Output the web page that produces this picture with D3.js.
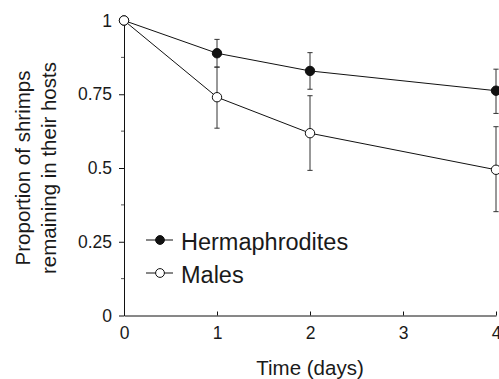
<!DOCTYPE html>
<html>
<head>
<meta charset="utf-8">
<script src="https://cdn.jsdelivr.net/npm/d3@7"></script>
<style>
  body { margin: 0; background: #fff; }
  svg text { font-family: "Liberation Sans", Arial, Helvetica, sans-serif; fill: #1a1a1a; }
</style>
</head>
<body>
<svg id="chart"></svg>
<script>
// values
const days = [0, 1, 2, 4];
const hermMean = [1, 0.889, 0.829, 0.762];
const hermLow  = [1, 0.842, 0.767, 0.685];
const hermHigh = [1, 0.936, 0.891, 0.835];
const maleMean = [1, 0.740, 0.618, 0.494];
const maleLow  = [1, 0.635, 0.492, 0.352];
const maleHigh = [1, 0.842, 0.745, 0.640];
const xTicks = [0, 1, 2, 3, 4];
const yTicks = [0, 0.25, 0.5, 0.75, 1];
const yMinor = [0.125, 0.375, 0.625, 0.875];
const seriesNames = ["Hermaphrodites", "Males"];

const width = 499;
const height = 379;
const marginTop = 20.5;
const marginRight = 3;
const marginBottom = 63.5;
const marginLeft = 124;

const series = [
  {name: seriesNames[0], fill: "#111", mean: hermMean, lo: hermLow, hi: hermHigh},
  {name: seriesNames[1], fill: "#fff", mean: maleMean, lo: maleLow, hi: maleHigh}
];

const x = d3.scaleLinear()
    .domain([0, 4])
    .range([marginLeft, width - marginRight]);

const y = d3.scaleLinear()
    .domain([0, 1])
    .range([height - marginBottom, marginTop]);

const svg = d3.select("#chart")
    .attr("width", width)
    .attr("height", height)
    .attr("viewBox", [0, 0, width, height]);

// y axis, major ticks outward
svg.append("g")
    .attr("transform", `translate(${marginLeft},0)`)
    .call(d3.axisLeft(y).tickValues(yTicks).tickFormat(d3.format("~g"))
      .tickSizeInner(5).tickSizeOuter(0).tickPadding(7))
    .call(g => g.selectAll("text").attr("font-size", 17.5))
    .call(g => g.selectAll("line, path").attr("stroke", "#111"));

// minor y ticks
svg.append("g")
    .selectAll("line")
    .data(yMinor)
    .join("line")
      .attr("x1", marginLeft - 3)
      .attr("x2", marginLeft)
      .attr("y1", d => y(d))
      .attr("y2", d => y(d))
      .attr("stroke", "#555");

// x axis, ticks pointing up
svg.append("g")
    .attr("transform", `translate(0,${height - marginBottom})`)
    .call(d3.axisBottom(x).tickValues(xTicks).tickFormat(d3.format("d"))
      .tickSizeInner(-4).tickSizeOuter(0).tickPadding(11))
    .call(g => g.selectAll("text").attr("font-size", 17.5))
    .call(g => g.selectAll("line, path").attr("stroke", "#111"));

// axis titles
svg.append("text")
    .attr("x", (marginLeft + width - marginRight) / 2)
    .attr("y", 375)
    .attr("text-anchor", "middle")
    .attr("font-size", 20.5)
    .text("Time (days)");

const yl = svg.append("text")
    .attr("transform", `translate(0,${y(0.5)}) rotate(-90)`)
    .attr("text-anchor", "middle")
    .attr("font-size", 20.5);
yl.append("tspan").attr("x", 0).attr("y", 30).text("Proportion of shrimps");
yl.append("tspan").attr("x", 0).attr("y", 56).text("remaining in their hosts");

// error bars
const capW = 2.6;
series.forEach(s => {
  const eb = svg.append("g").attr("stroke", "#333").attr("stroke-width", 1);
  days.forEach((d, i) => {
    if (s.hi[i] === s.lo[i]) return;
    eb.append("line")
      .attr("x1", x(d)).attr("x2", x(d))
      .attr("y1", y(s.lo[i])).attr("y2", y(s.hi[i]));
    [s.lo[i], s.hi[i]].forEach(v => {
      eb.append("line")
        .attr("x1", x(d) - capW).attr("x2", x(d) + capW)
        .attr("y1", y(v)).attr("y2", y(v));
    });
  });
});

// lines
const line = d3.line()
    .x((d, i) => x(days[i]))
    .y(d => y(d));

series.forEach(s => {
  svg.append("path")
      .attr("d", line(s.mean))
      .attr("fill", "none")
      .attr("stroke", "#111")
      .attr("stroke-width", 1);
});

// points
series.forEach(s => {
  svg.append("g")
    .selectAll("circle")
    .data(s.mean)
    .join("circle")
      .attr("cx", (d, i) => x(days[i]))
      .attr("cy", d => y(d))
      .attr("r", 4.7)
      .attr("fill", s.fill)
      .attr("stroke", "#111")
      .attr("stroke-width", 1);
});

// legend
const legend = svg.append("g");
series.forEach((s, i) => {
  const ly = 240 + i * 33;
  legend.append("line")
      .attr("x1", 146).attr("x2", 173)
      .attr("y1", ly).attr("y2", ly)
      .attr("stroke", "#111");
  legend.append("circle")
      .attr("cx", 160).attr("cy", ly).attr("r", 4.4)
      .attr("fill", s.fill)
      .attr("stroke", "#111");
  legend.append("text")
      .attr("x", 181)
      .attr("y", ly + 9.5)
      .attr("font-size", 23.5)
      .text(s.name);
});
</script>
</body>
</html>
